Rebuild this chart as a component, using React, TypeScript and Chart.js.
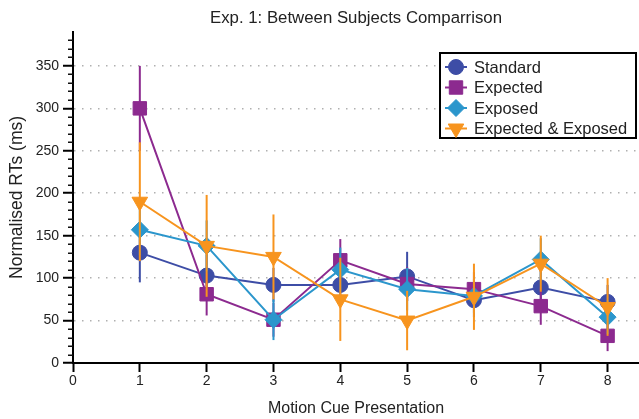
import React, { useEffect, useRef } from "react";
import { Chart, registerables } from "chart.js";

Chart.register(...registerables);

const TITLE = "Exp. 1: Between Subjects Comparrison";
const X_TITLE = "Motion Cue Presentation";
const Y_TITLE = "Normalised RTs (ms)";

const CUES = [1, 2, 3, 4, 5, 6, 7, 8];
const SERIES_NAMES = ["Standard", "Expected", "Exposed", "Expected & Exposed"];

const STANDARD = [130, 103, 92, 92, 102, 74, 89, 72];
const EXPECTED = [300, 81, 51, 121, 93, 87, 67, 32];
const EXPOSED = [157, 138, 51, 110, 87, 79, 122, 54];
const EXP_AND_EXP = [190, 138, 125, 75, 50, 78, 117, 66];

const STANDARD_ERR = [35, 25, 20, 20, 29, 20, 20, 20];
const EXPECTED_ERR = [50, 25, 20, 25, 20, 20, 22, 18];
const EXPOSED_ERR = [30, 30, 24, 26, 25, 20, 25, 20];
const EXP_AND_EXP_ERR = [70, 60, 50, 49, 35, 39, 33, 34];

const SERIES = [STANDARD, EXPECTED, EXPOSED, EXP_AND_EXP];
const ERRORS = [STANDARD_ERR, EXPECTED_ERR, EXPOSED_ERR, EXP_AND_EXP_ERR];
const COLORS = ["#3D4DA6", "#8C2A8F", "#2B96CC", "#F7941E"];
const POINT_STYLES = ["circle", "rect", "rectRot", "triangle"];
const POINT_RADII = [7.5, 9.5, 8.5, 9];
const POINT_ROT = [0, 0, 0, 180];

const Y_MAX = 390;
const X_MAX = 8.47;
const FONT = "'Liberation Sans', Arial, Helvetica, sans-serif";
const TEXT = "#222";

function drawMarker(ctx: CanvasRenderingContext2D, style: string, x: number, y: number, r: number, color: string) {
  ctx.save();
  ctx.fillStyle = color;
  ctx.strokeStyle = color;
  ctx.lineWidth = 1;
  ctx.beginPath();
  if (style === "circle") {
    ctx.arc(x, y, r, 0, Math.PI * 2);
  } else if (style === "rect") {
    const s = Math.SQRT1_2 * r;
    ctx.rect(x - s, y - s, 2 * s, 2 * s);
  } else if (style === "rectRot") {
    ctx.moveTo(x, y - r);
    ctx.lineTo(x + r, y);
    ctx.lineTo(x, y + r);
    ctx.lineTo(x - r, y);
    ctx.closePath();
  } else {
    const h = r * Math.sqrt(3) / 2;
    ctx.moveTo(x - h, y - r / 2);
    ctx.lineTo(x + h, y - r / 2);
    ctx.lineTo(x, y + r);
    ctx.closePath();
  }
  ctx.fill();
  ctx.stroke();
  ctx.restore();
}

const errorBarPlugin = {
  id: "errorBars",
  beforeDatasetDraw(chart: any, args: any) {
    const i = args.index;
    const meta = chart.getDatasetMeta(i);
    const ys = chart.scales.y;
    const ctx = chart.ctx;
    ctx.save();
    ctx.strokeStyle = COLORS[i];
    ctx.lineWidth = 2;
    meta.data.forEach((pt: any, j: number) => {
      const v = SERIES[i][j];
      const e = ERRORS[i][j];
      ctx.beginPath();
      ctx.moveTo(pt.x, ys.getPixelForValue(v - e));
      ctx.lineTo(pt.x, ys.getPixelForValue(v + e));
      ctx.stroke();
    });
    ctx.restore();
  },
};

const minorTickPlugin = {
  id: "minorTicks",
  afterDraw(chart: any) {
    const ys = chart.scales.y;
    const ctx = chart.ctx;
    const x0 = ys.right;
    ctx.save();
    ctx.strokeStyle = "#111";
    ctx.lineWidth = 1.5;
    for (let v = 10; v <= 380; v += 10) {
      if (v % 50 === 0) continue;
      const y = Math.round(ys.getPixelForValue(v)) + 0.25;
      ctx.beginPath();
      ctx.moveTo(x0 - 5, y);
      ctx.lineTo(x0, y);
      ctx.stroke();
    }
    ctx.restore();
  },
};

const legendPlugin = {
  id: "boxLegend",
  afterDraw(chart: any) {
    const ctx = chart.ctx;
    const bx = 440, by = 53, bw = 196, bh = 85;
    ctx.save();
    ctx.fillStyle = "#fff";
    ctx.fillRect(bx, by, bw, bh);
    ctx.strokeStyle = "#000";
    ctx.lineWidth = 2;
    ctx.strokeRect(bx, by, bw, bh);
    ctx.font = `16.5px ${FONT}`;
    ctx.textBaseline = "middle";
    ctx.textAlign = "left";
    SERIES_NAMES.forEach((name, i) => {
      const y = by + 14 + i * 20.5;
      const mx = 456;
      ctx.strokeStyle = COLORS[i];
      ctx.lineWidth = 2;
      ctx.beginPath();
      ctx.moveTo(mx - 11, y);
      ctx.lineTo(mx + 11, y);
      ctx.stroke();
      drawMarker(ctx, POINT_STYLES[i], mx, y, POINT_RADII[i], COLORS[i]);
      ctx.fillStyle = TEXT;
      ctx.fillText(name, 474, y + 1);
    });
    ctx.restore();
  },
};

export default function App() {
  const ref = useRef<HTMLCanvasElement | null>(null);

  useEffect(() => {
    if (!ref.current) return;
    const datasets = SERIES.map((vals, i) => ({
      label: SERIES_NAMES[i],
      data: CUES.map((c, j) => ({ x: c, y: vals[j] })),
      borderColor: COLORS[i],
      backgroundColor: COLORS[i],
      borderWidth: 2,
      pointStyle: POINT_STYLES[i],
      pointRadius: POINT_RADII[i],
      pointRotation: POINT_ROT[i],
      pointBorderWidth: 1,
      pointBackgroundColor: COLORS[i],
      pointBorderColor: COLORS[i],
      tension: 0,
      order: 4 - i,
      clip: false as any,
    }));

    const chart = new Chart(ref.current, {
      type: "line",
      data: { datasets },
      options: {
        animation: false,
        responsive: true,
        maintainAspectRatio: false,
        layout: { autoPadding: false, padding: { left: 0, right: 0, top: 0, bottom: 0 } },
        plugins: {
          legend: { display: false },
          tooltip: { enabled: false },
          title: {
            display: true,
            text: TITLE,
            fullSize: false,
            color: TEXT,
            font: { family: FONT, size: 16.8, weight: "normal" as any, lineHeight: 1.2 },
            padding: { top: 8, bottom: 3.8 },
          },
        },
        scales: {
          x: {
            type: "linear",
            min: 0,
            max: X_MAX,
            afterFit: (s: any) => {
              s.height = 56;
              s.paddingLeft = 0;
              s.paddingRight = 0;
            },
            ticks: {
              stepSize: 1,
              includeBounds: false,
              color: TEXT,
              font: { family: FONT, size: 14 },
              padding: 1,
              maxRotation: 0,
            },
            grid: {
              drawOnChartArea: false,
              drawTicks: true,
              tickLength: 9,
              tickColor: "#000",
              tickWidth: 2,
            },
            border: { display: true, color: "#000", width: 2 },
            title: {
              display: true,
              text: X_TITLE,
              color: TEXT,
              font: { family: FONT, size: 16, lineHeight: 1.2 },
              padding: { top: 0, bottom: 0.5 },
            },
          },
          y: {
            type: "linear",
            min: 0,
            max: Y_MAX,
            afterFit: (s: any) => {
              s.width = 73;
              s.paddingTop = 0;
              s.paddingBottom = 0;
            },
            ticks: {
              stepSize: 50,
              includeBounds: false,
              color: TEXT,
              font: { family: FONT, size: 14 },
              padding: 4,
            },
            grid: {
              color: (c: any) => (c.tick && c.tick.value === 0 ? "rgba(0,0,0,0)" : "#b0b0b0"),
              lineWidth: 1.5,
              drawTicks: true,
              tickLength: 10,
              tickColor: "#000",
              tickWidth: 2,
            },
            border: { display: true, color: "#000", width: 2, dash: [1.5, 6.5] },
            title: {
              display: true,
              text: Y_TITLE,
              color: TEXT,
              font: { family: FONT, size: 17.5, lineHeight: 1.2 },
              padding: { top: 7, bottom: 0 },
            },
          },
        },
      },
      plugins: [errorBarPlugin, minorTickPlugin, legendPlugin],
    } as any);

    return () => chart.destroy();
  }, []);

  return (
    <div style={{ position: "absolute", left: 0, top: 0, width: 639, height: 419, background: "#fff" }}>
      <canvas ref={ref} />
    </div>
  );
}
